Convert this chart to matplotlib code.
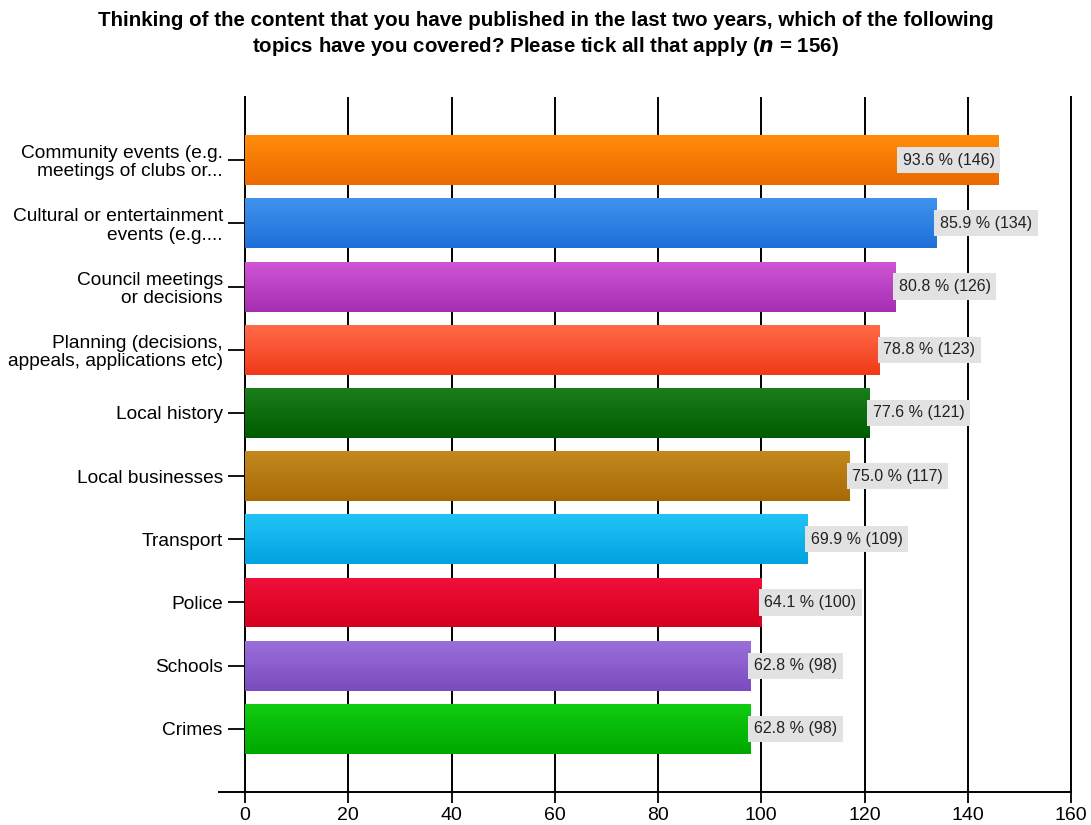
import numpy as np
import matplotlib.pyplot as plt
from matplotlib.colors import LinearSegmentedColormap

# ── data ──────────────────────────────────────────────────────────────────────
topics = [
    "Community events (e.g.\nmeetings of clubs or...",
    "Cultural or entertainment\nevents (e.g....",
    "Council meetings\nor decisions",
    "Planning (decisions,\nappeals, applications etc)",
    "Local history",
    "Local businesses",
    "Transport",
    "Police",
    "Schools",
    "Crimes",
]
counts = [146, 134, 126, 123, 121, 117, 109, 100, 98, 98]
percents = [93.6, 85.9, 80.8, 78.8, 77.6, 75.0, 69.9, 64.1, 62.8, 62.8]

# top / bottom colour of each bar's vertical gradient
bar_top = ["#ff8c0a", "#3f93ee", "#cf55d6", "#ff6a48", "#1a7d1a",
           "#c3891e", "#22c4f6", "#f1103a", "#9a6fd9", "#10cc10"]
bar_bot = ["#ec6a00", "#1f6fd8", "#a52eb0", "#f03a18", "#005c00",
           "#a86a05", "#00a2e0", "#d6001e", "#7a4cbe", "#00a800"]

plt.rcParams["font.family"] = ["Liberation Sans", "DejaVu Sans"]

fig = plt.figure(figsize=(10.91, 8.25), dpi=100)
ax = fig.add_axes([0.2246, 0.04, 0.7571, 0.8424])

y = np.arange(len(topics))
bars = ax.barh(y, counts, height=0.79, color=bar_bot, zorder=2, linewidth=0)

# gradient fill clipped to each bar
grad = np.linspace(0, 1, 64).reshape(-1, 1)
for b, c0, c1 in zip(bars, bar_top, bar_bot):
    cmap = LinearSegmentedColormap.from_list("g", [c0, c1])
    x0, y0 = b.get_x(), b.get_y()
    w, h = b.get_width(), b.get_height()
    im = ax.imshow(grad, cmap=cmap, aspect="auto", zorder=3,
                   extent=(x0, x0 + w, y0 + h, y0), interpolation="bicubic")
    im.set_clip_path(b)

# value labels on grey boxes
for i, (c, p) in enumerate(zip(counts, percents)):
    txt = f"{p:.1f} % ({c})"
    inside = c > 140
    ax.text(c - 0.8 if inside else c + 0.6, i, txt,
            ha="right" if inside else "left", va="center",
            fontsize=11.5, color="#222222", zorder=5,
            bbox=dict(boxstyle="square,pad=0.35", fc="#e2e2e2", ec="none"))

ax.set_xlim(0, 160)
ax.set_ylim(10, -1)
ax.set_xticks(range(0, 161, 20))
ax.set_yticks(y)
ax.set_yticklabels(topics, fontsize=13.8, linespacing=1.1)
ax.tick_params(axis="x", labelsize=14, length=8, width=1.3, direction="out", pad=3)
ax.tick_params(axis="y", length=12, width=1.3, direction="out", pad=4)

ax.grid(axis="x", color="black", linewidth=1.4, zorder=0)
ax.set_axisbelow(True)
ax.spines["top"].set_visible(False)
for s in ("left", "right", "bottom"):
    ax.spines[s].set_linewidth(1.4)
# bottom axis line runs a little past zero
ax.plot([-5, 0], [10, 10], color="black", linewidth=1.4, clip_on=False)

fig.text(0.5, 0.987,
         "Thinking of the content that you have published in the last two years, which of the following\n"
         "topics have you covered? Please tick all that apply ($\\boldsymbol{n}$ = 156)",
         ha="center", va="top", fontsize=14.8, fontweight="bold", linespacing=1.3)

plt.savefig("out.png", dpi=100)
plt.close()
